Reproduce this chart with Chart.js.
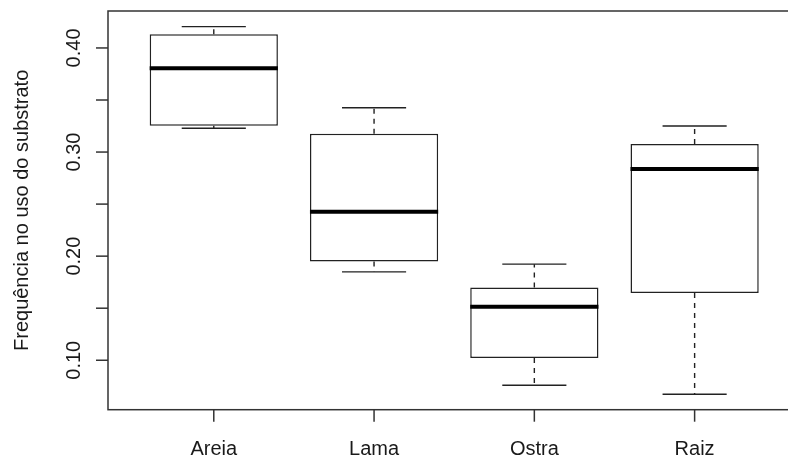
<!DOCTYPE html>
<html lang="pt">

<head>
    <meta charset="UTF-8">
    <title>Boxplot substrato</title>
    <script src="https://cdn.jsdelivr.net/npm/chart.js"></script>
    <style>
        body { margin: 0; overflow: hidden; background: #fff; }
        #wrap { width: 788px; height: 457px; overflow: hidden; }
        #graficoBox { display: block; width: 820px; height: 457px; }
    </style>
</head>

<body>
    <div id="wrap">
        <canvas id="graficoBox" width="820" height="457"></canvas>
    </div>
</body>

</html>
<script>
    // dados
    const categorias = ['Areia', 'Lama', 'Ostra', 'Raiz']
    const minimos = [0.3228, 0.1849, 0.0760, 0.0673]
    const q1 = [0.3253, 0.1949, 0.1022, 0.1647]
    const medianas = [0.3805, 0.2426, 0.1513, 0.2837]
    const q3 = [0.4132, 0.3176, 0.1699, 0.3077]
    const maximos = [0.4205, 0.3426, 0.1923, 0.3250]

    const yTicks = [0.10, 0.15, 0.20, 0.25, 0.30, 0.35, 0.40]
    const yLabels = ['0.10', '', '0.20', '', '0.30', '', '0.40']

    const fonte = '20px "Liberation Sans", Arial, sans-serif'
    const corLinha = '#222'

    let caixas = []
    for (let i = 0; i < categorias.length; i++) {
        caixas.push({ x: i + 1, y: [q1[i], q3[i]] })
    }

    const eixosBox = {
        id: 'eixosBox',
        afterDatasetsDraw(chart) {
            const ctx = chart.ctx
            const x = chart.scales.x
            const y = chart.scales.y
            const area = chart.chartArea
            const meia = (x.getPixelForValue(1.2) - x.getPixelForValue(1))

            ctx.save()
            // bigodes e medianas
            for (let i = 0; i < categorias.length; i++) {
                const cx = x.getPixelForValue(i + 1)
                ctx.strokeStyle = corLinha
                ctx.lineWidth = 1.4
                ctx.setLineDash([5, 5])
                ctx.beginPath()
                ctx.moveTo(cx, y.getPixelForValue(q3[i]))
                ctx.lineTo(cx, y.getPixelForValue(maximos[i]))
                ctx.moveTo(cx, y.getPixelForValue(q1[i]))
                ctx.lineTo(cx, y.getPixelForValue(minimos[i]))
                ctx.stroke()
                ctx.setLineDash([])
                ctx.beginPath()
                ctx.moveTo(cx - meia, y.getPixelForValue(maximos[i]))
                ctx.lineTo(cx + meia, y.getPixelForValue(maximos[i]))
                ctx.moveTo(cx - meia, y.getPixelForValue(minimos[i]))
                ctx.lineTo(cx + meia, y.getPixelForValue(minimos[i]))
                ctx.stroke()

                const w = x.getPixelForValue(1.4) - x.getPixelForValue(1)
                ctx.lineWidth = 4
                ctx.strokeStyle = '#000'
                ctx.beginPath()
                ctx.moveTo(cx - w, y.getPixelForValue(medianas[i]))
                ctx.lineTo(cx + w, y.getPixelForValue(medianas[i]))
                ctx.stroke()
            }

            // moldura
            ctx.strokeStyle = '#333'
            ctx.lineWidth = 1.5
            ctx.strokeRect(area.left, area.top, area.right - area.left, area.bottom - area.top)

            ctx.fillStyle = '#1a1a1a'
            ctx.font = fonte

            // eixo y
            for (let i = 0; i < yTicks.length; i++) {
                const py = y.getPixelForValue(yTicks[i])
                ctx.beginPath()
                ctx.moveTo(area.left, py)
                ctx.lineTo(area.left - 12, py)
                ctx.stroke()
                if (yLabels[i] != '') {
                    ctx.save()
                    ctx.translate(80, py)
                    ctx.rotate(-Math.PI / 2)
                    ctx.textAlign = 'center'
                    ctx.textBaseline = 'alphabetic'
                    ctx.fillText(yLabels[i], 0, 0)
                    ctx.restore()
                }
            }

            // eixo x
            for (let i = 0; i < categorias.length; i++) {
                const px = x.getPixelForValue(i + 1)
                ctx.beginPath()
                ctx.moveTo(px, area.bottom)
                ctx.lineTo(px, area.bottom + 12)
                ctx.stroke()
                ctx.textAlign = 'center'
                ctx.textBaseline = 'alphabetic'
                ctx.fillText(categorias[i], px, 455)
            }

            // titulo y
            ctx.save()
            ctx.translate(27.6, (area.top + area.bottom) / 2)
            ctx.rotate(-Math.PI / 2)
            ctx.textAlign = 'center'
            ctx.textBaseline = 'alphabetic'
            ctx.fillText('Frequência no uso do substrato', 0, 0)
            ctx.restore()

            ctx.restore()
        }
    }

    new Chart(document.getElementById('graficoBox'), {
        type: 'bar',
        data: {
            datasets: [
                {
                    data: caixas,
                    backgroundColor: '#fff',
                    borderColor: corLinha,
                    borderWidth: 1.5,
                    borderSkipped: false,
                    barPercentage: 0.8,
                    categoryPercentage: 1
                }
            ]
        },
        options: {
            responsive: false,
            animation: false,
            layout: {
                padding: { left: 108, top: 11, right: 19.6, bottom: 47.3 }
            },
            plugins: {
                legend: { display: false },
                tooltip: { enabled: false }
            },
            scales: {
                x: {
                    type: 'linear', min: 0.34, max: 4.66, display: false,
                    offset: false, grid: { offset: false },
                    afterBuildTicks: function (scale) {
                        scale.ticks = categorias.map(function (c, i) { return { value: i + 1 } })
                    }
                },
                y: { min: 0.0525, max: 0.4355, display: false }
            }
        },
        plugins: [eixosBox]
    });
</script>
